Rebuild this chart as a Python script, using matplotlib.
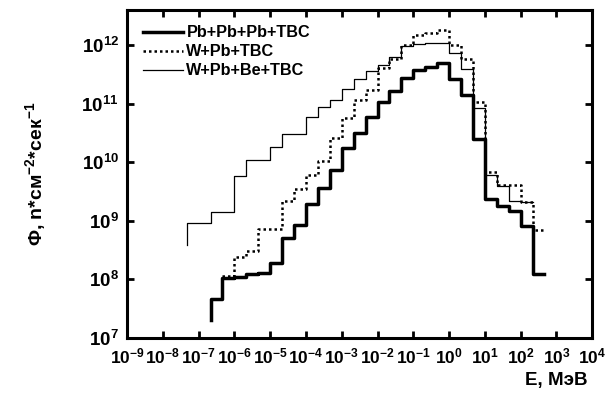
import math
import matplotlib
matplotlib.use("Agg")
import matplotlib.pyplot as plt
from matplotlib.ticker import NullLocator, FuncFormatter

plt.rcParams['font.family'] = ['Liberation Sans', 'DejaVu Sans']
plt.rcParams['font.weight'] = 'bold'
plt.rcParams['mathtext.fontset'] = 'custom'
plt.rcParams['mathtext.bf'] = 'Liberation Sans:bold'
plt.rcParams['mathtext.rm'] = 'Liberation Sans:bold'
plt.rcParams['mathtext.default'] = 'bf'

# group boundaries, MeV (3 groups per decade)
edges = [4.64e-8, 1e-7, 2.15e-7, 4.64e-7, 1e-6, 2.15e-6, 4.64e-6, 1e-5, 2.15e-5,
         4.64e-5, 1e-4, 2.15e-4, 4.64e-4, 1e-3, 2.15e-3, 4.64e-3, 1e-2, 2.15e-2,
         4.64e-2, 0.1, 0.215, 0.464, 1.0, 2.15, 4.64, 10.0, 21.5, 46.4, 100.0, 215.0, 464.0]

# Pb+Pb+Pb+TBC, groups from 2.15e-7 to 464 MeV
pb_start = 2.0e7
pb_flux = [4.6e7, 1.07e8, 1.12e8, 1.23e8, 1.29e8, 1.9e8, 5.1e8, 8.5e8, 1.95e9, 3.7e9,
           7.4e9, 1.74e10, 3.2e10, 6.0e10, 1.07e11, 1.66e11, 2.7e11, 3.7e11, 4.2e11, 4.9e11,
           2.6e11, 1.4e11, 2.45e10, 2.4e9, 1.8e9, 1.5e9, 8.1e8, 1.23e8]

# W+Pb+TBC, groups from 4.64e-7 to 464 MeV
w_flux = [1.15e8, 2.4e8, 3.0e8, 7.2e8, 7.2e8, 2.2e9, 3.5e9, 6.0e9, 1.07e10, 2.6e10,
          5.6e10, 1.15e11, 1.7e11, 4.0e11, 5.9e11, 1.0e12, 1.5e12, 1.6e12, 1.8e12,
          1.0e12, 5.8e11, 1.07e11, 6.9e9, 4.1e9, 4.1e9, 2.1e9, 6.9e8]

# W+Pb+Be+TBC, groups from 4.64e-8 to 215 MeV
be_start = 3.9e8
be_flux = [9.3e8, 9.3e8, 1.4e9, 1.4e9, 5.8e9, 1.1e10, 1.1e10, 1.8e10, 3.0e10, 3.0e10,
           6.0e10, 8.9e10, 1.15e11, 1.8e11, 2.6e11, 3.6e11, 4.6e11, 6.2e11, 9.5e11,
           1.05e12, 1.08e12, 1.1e12, 7.2e11, 3.9e11, 8.5e10, 6.0e9, 3.9e9, 2.2e9, 2.1e9]


def stairs_xy(e, v, start=None):
    x = list(e[:len(v) + 1])
    y = list(v) + [v[-1]]
    if start is not None:
        x = [x[0]] + x
        y = [start] + y
    return x, y


fig = plt.figure(figsize=(6.08, 3.93), dpi=100)
ax = fig.add_axes([0.209, 0.140, 0.765, 0.835])

x, y = stairs_xy(edges[2:], pb_flux, pb_start)
ax.step(x, y, where='post', color='black', lw=2.5, label='Pb+Pb+Pb+TBC')
x, y = stairs_xy(edges[3:], w_flux)
ax.step(x, y, where='post', color='black', lw=1.8, ls=(0, (1, 1.2)), label='W+Pb+TBC')
x, y = stairs_xy(edges, be_flux, be_start)
ax.step(x, y, where='post', color='black', lw=0.9, label='W+Pb+Be+TBC')

ax.set_xscale('log')
ax.set_yscale('log')
ax.set_xlim(1e-9, 1e4)
ax.set_ylim(1e7, 4e12)
ax.set_xticks([10.0 ** k for k in range(-9, 5)])
ax.set_yticks([10.0 ** k for k in range(7, 13)])
ax.xaxis.set_minor_locator(NullLocator())
ax.yaxis.set_minor_locator(NullLocator())
fmt = FuncFormatter(lambda v, p: r'$\mathbf{10^{%d}}$' % round(math.log10(v)))
ax.xaxis.set_major_formatter(fmt)
ax.yaxis.set_major_formatter(fmt)
ax.tick_params(which='major', direction='in', length=5, width=2, top=True, right=True,
               pad=6)
ax.tick_params(axis='x', labelsize=12.5)
ax.tick_params(axis='y', labelsize=13.5)
for s in ax.spines.values():
    s.set_linewidth(2.2)

ax.set_ylabel('Φ, n*см$^{-2}$*сек$^{-1}$', fontsize=14, fontweight='bold', labelpad=24)
fig.text(0.967, 0.02, 'E, МэВ', fontsize=13.5, fontweight='bold', ha='right')

ax.legend(loc='upper left', frameon=False, fontsize=11.7, handlelength=2.5,
          handletextpad=0.2, labelspacing=0.25, borderaxespad=0.55,
          bbox_to_anchor=(0.0, 1.0))

fig.savefig('out.png', dpi=100)
